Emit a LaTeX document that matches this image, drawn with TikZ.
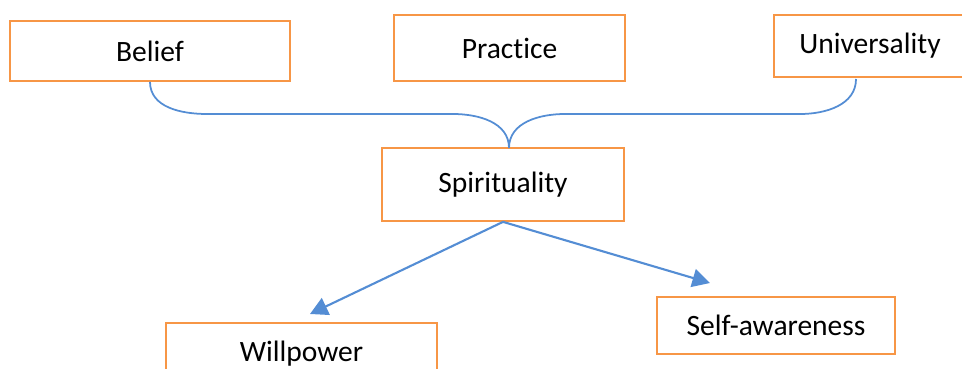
\documentclass[tikz,border=0pt]{standalone}
\usepackage{fontspec}
\setmainfont{Carlito}[Ligatures=NoCommon]
\usetikzlibrary{arrows.meta}

\definecolor{boxorange}{RGB}{247,150,70}
\definecolor{lineblue}{RGB}{84,141,212}

\begin{document}
\begin{tikzpicture}[x=0.02cm,y=-0.02cm,
	factor/.style={draw=boxorange,line width=1pt,fill=white,font=\fontsize{16.8}{20}\selectfont,inner sep=0pt},
	brace/.style={draw=lineblue,line width=1pt},
	arr/.style={draw=lineblue,line width=1.2pt,-{Triangle[length=10pt,width=10.5pt]}}]
	\useasboundingbox (0,0) rectangle (962,368);
	
	%top row
	\node[factor,minimum width=5.6cm,minimum height=1.2cm]   (bel) at (150,51)    {Belief};
	\node[factor,minimum width=4.62cm,minimum height=1.32cm] (pra) at (509.5,48)  {Practice};
	\node[factor,minimum width=3.84cm,minimum height=1.24cm] (uni) at (870,46)    {Universality};
	
	%middle
	\node[factor,minimum width=4.84cm,minimum height=1.46cm] (spi) at (503,184.5) {Spirituality};
	
	%bottom row
	\node[factor,minimum width=5.42cm,minimum height=1.24cm] (wil) at (301.5,354) {Willpower};
	\node[factor,minimum width=4.76cm,minimum height=1.14cm] (sel) at (776,325.5) {Self-awareness};
	
	%brace joining the three
	\coordinate (cusp) at (509,148);
	\coordinate (uend) at (856,79);
	\draw[brace] (bel.south) to[out=-90,in=180] (207,114) -- (453,114) to[out=0,in=90] (cusp);
	\draw[brace] (cusp) to[out=90,in=180] (565,114) -- (800,114) to[out=0,in=-90] (uend);
	
	%arrows down, tips stop short of the boxes
	\coordinate (wtip) at (310,314);
	\coordinate (stip) at (710,283);
	\draw[arr] (spi.south) -- (wtip);
	\draw[arr] (spi.south) -- (stip);
\end{tikzpicture}
\end{document}
